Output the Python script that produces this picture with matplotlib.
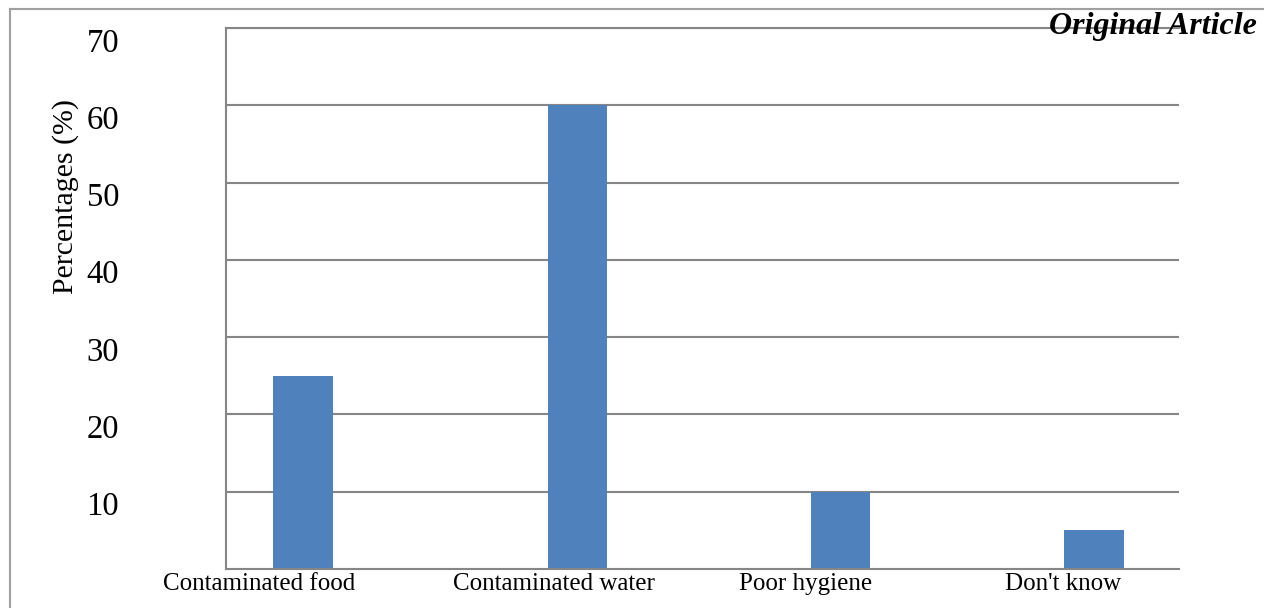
import matplotlib.pyplot as plt
from matplotlib.lines import Line2D

# survey answers: perceived cause of illness
categories = ["Contaminated food", "Contaminated water", "Poor hygiene", "Don't know"]
percentages = [25, 60, 10, 5]
y_ticks = [10, 20, 30, 40, 50, 60, 70]

# where the bars and their labels sit along the x axis (axis runs 0..4)
bar_pos = [0.323, 1.475, 2.579, 3.643]
label_pos = [0.139, 1.377, 2.434, 3.513]

plt.rcParams['font.family'] = ['Liberation Serif', 'DejaVu Serif']

fig = plt.figure(figsize=(12.64, 6.08), dpi=100)
ax = fig.add_axes([226/1264, 39/608, 953/1264, 541/608])

ax.bar(bar_pos, percentages, width=0.25, color='#4f81bd')

ax.set_xlim(0, 4)
ax.set_ylim(0, 70)
ax.set_yticks(y_ticks)
ax.set_yticklabels([str(t) for t in y_ticks], fontsize=23.5)
for lbl in ax.get_yticklabels():
    lbl.set_verticalalignment('top')
ax.set_xticks(label_pos)
ax.set_xticklabels(categories, fontsize=18)
ax.tick_params(axis='y', length=0, pad=77)
ax.tick_params(axis='x', length=0, pad=3)

ax.set_axisbelow(True)
ax.yaxis.grid(True, color='#868686', linewidth=1.5)
for side in ['left', 'top', 'bottom']:
    ax.spines[side].set_color('#868686')
    ax.spines[side].set_linewidth(1.5)
ax.spines['right'].set_visible(False)

fig.text(66/1264, 1 - 196/608, 'Percentages (%)', rotation=90,
         fontsize=21.5, ha='center', va='center')

# page frame and header
fig.add_artist(Line2D([10/1264, 10/1264], [0, 1 - 9/608], color='#a0a0a0', linewidth=1.5))
fig.add_artist(Line2D([10/1264, 1], [1 - 9/608, 1 - 9/608], color='#a0a0a0', linewidth=1.5))
fig.text(1257/1264, 1 - 12/608, 'Original Article', fontsize=23,
         fontweight='bold', fontstyle='italic', ha='right', va='top')

fig.savefig('out.png', dpi=100)
